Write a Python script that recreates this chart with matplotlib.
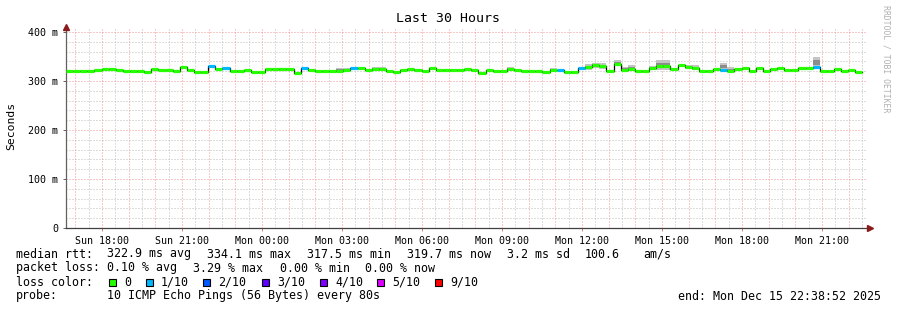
import matplotlib
matplotlib.use('Agg')
import matplotlib.pyplot as plt
from matplotlib.patches import Rectangle
import numpy as np

# ---------------- data ----------------
title = "Last 30 Hours"
tick_hours = [18, 21, 24, 27, 30, 33, 36, 39, 42, 45]
tick_labels = ["Sun 18:00", "Sun 21:00", "Mon 00:00", "Mon 03:00", "Mon 06:00",
               "Mon 09:00", "Mon 12:00", "Mon 15:00", "Mon 18:00", "Mon 21:00"]
y_ticks = [0, 100, 200, 300, 400]
y_tick_labels = ["0", "100 m", "200 m", "300 m", "400 m"]

median_ms = [321, 321, 321, 320, 322, 324, 324, 323, 321, 321, 320, 319, 324, 322, 322, 320, 328, 322, 318, 318,
             330, 325, 326, 320, 320, 322, 319, 319, 324, 324, 324, 324, 317, 326, 322, 321, 321, 321,
             321, 323, 327, 326, 322, 325, 325, 321, 319, 322, 324, 322, 321, 327, 323, 323, 323, 323, 325, 322,
             317, 323, 321, 321, 324, 322, 321, 321, 320, 319, 323, 323, 319, 319, 327, 328, 332,
             330, 320, 334, 323, 325, 321, 321, 326, 331, 331, 325, 332, 328, 326, 321, 320, 324, 323, 321, 324,
             327, 321, 326, 321, 324, 327, 322, 322, 327, 327, 328, 321, 321, 325, 321, 323, 319]
loss_idx = [20, 22, 33, 40, 69, 72, 92, 105]
loss_val = [1, 1, 1, 1, 1, 1, 1, 1]

smoke_idx = [38, 39, 43, 44, 62, 68, 73, 74, 75, 77, 78, 79, 82, 83, 84, 87, 88, 92, 93, 105]
smoke_lo = [318, 320, 322, 322, 321, 320, 322, 326, 324, 331, 320, 321, 322, 322, 322, 324, 322, 322, 319, 326]
smoke_hi = [327, 327, 328, 328, 328, 326, 335, 337, 336, 342, 328, 332, 331, 342, 342, 332, 332, 337, 328, 349]

loss_levels = ["0", "1/10", "2/10", "3/10", "4/10", "5/10", "9/10"]
loss_colors = ["#26ff00", "#00b8ff", "#0059ff", "#5e00ff", "#7e00ff", "#dd00ff", "#ff0000"]
loss_color_map = {0: "#26ff00", 1: "#00b8ff", 2: "#0059ff", 3: "#5e00ff", 4: "#7e00ff", 5: "#dd00ff", 9: "#ff0000"}

stats_rtt = ["322.9 ms avg", "334.1 ms max", "317.5 ms min", "319.7 ms now", "3.2 ms sd", "100.6", "am/s"]
stats_loss = ["0.10 % avg", "3.29 % max", "0.00 % min", "0.00 % now"]
probe_text = "10 ICMP Echo Pings (56 Bytes) every 80s"
end_text = "end: Mon Dec 15 22:38:52 2025"

# ---------------- layout ----------------
W, H = 897, 310
MONO = "DejaVu Sans Mono"
plt.rcParams['font.family'] = [MONO]

start_h = 16 + 38 / 60 + 52 / 3600
end_h = start_h + 30
step_h = 16 / 60

fig = plt.figure(figsize=(W / 100, H / 100), dpi=100)
fig.patch.set_facecolor("white")
ax = fig.add_axes([66 / W, (H - 228) / H, 800 / W, 201 / H])
ax.set_xlim(start_h, end_h)
ax.set_ylim(0, 410)
ax.set_facecolor("white")

dot = (0, (1, 2))
# grid
for h in np.arange(np.ceil(start_h * 2) / 2, end_h, 0.5):
    if abs(h - round(h)) > 1e-6:
        ax.axvline(h, color="#bdbdbd", lw=0.72, ls=dot, zorder=0)
for v in range(20, 401, 20):
    if v % 100:
        ax.axhline(v, color="#bdbdbd", lw=0.72, ls=dot, zorder=0)
for h in range(int(np.ceil(start_h)), int(end_h) + 1):
    ax.axvline(h, color="#f09595", lw=0.72, ls=dot, zorder=0.5)
for v in range(100, 401, 100):
    ax.axhline(v, color="#f09595", lw=0.72, ls=dot, zorder=0.5)

n = len(median_ms)
xs = start_h + np.arange(n + 1) * step_h
med = np.array(median_ms, dtype=float)

# smoke
for i, lo, hi in zip(smoke_idx, smoke_lo, smoke_hi):
    ax.fill_between([xs[i], xs[i + 1]], lo, hi, color="#c4c4c4", lw=0, zorder=1)
    q1 = lo + 0.3 * (hi - lo)
    q3 = lo + 0.7 * (hi - lo)
    ax.fill_between([xs[i], xs[i + 1]], q1, q3, color="#8c8c8c", lw=0, zorder=1.1)

# median step line (black) then loss-colored band
ax.step(xs, np.append(med, med[-1]), where="post", color="black", lw=0.9, zorder=2)
loss = dict(zip(loss_idx, loss_val))
for i in range(n):
    c = loss_color_map[loss.get(i, 0)]
    ax.hlines(med[i], xs[i], xs[i + 1], color=c, lw=2.3, zorder=3, capstyle="butt")

# axes & ticks
for s in ["top", "right"]:
    ax.spines[s].set_visible(False)
ax.spines["left"].set_color("#606060")
ax.spines["bottom"].set_color("#404040")
ax.spines["left"].set_linewidth(0.9)
ax.spines["bottom"].set_linewidth(0.9)
ax.set_xticks(tick_hours)
ax.set_xticklabels(tick_labels, fontsize=7.2, family=MONO)
ax.set_yticks(y_ticks)
ax.set_yticklabels(y_tick_labels, fontsize=7.2, family=MONO)
ax.tick_params(axis="x", length=2, width=0.7, color="#d08080", pad=3.5)
ax.tick_params(axis="y", length=2.5, width=0.7, color="#606060", pad=3)

# arrows
ax.plot([0], [1.0], transform=ax.transAxes, marker="^", color="#8b1a1a",
        ms=4, clip_on=False, zorder=5)
ax.plot([1.005], [0], transform=ax.transAxes, marker=">", color="#8b1a1a",
        ms=4, clip_on=False, zorder=5)

def ftext(x, y, s, **kw):
    kw.setdefault("fontsize", 8.4)
    kw.setdefault("family", MONO)
    kw.setdefault("va", "center")
    fig.text(x / W, 1 - y / H, s, **kw)

ftext(448, 19, title, ha="center", fontsize=9.5)
ftext(11, 126, "Seconds", ha="center", rotation=90, fontsize=8.2)
ftext(886, 59, "RRDTOOL / TOBI OETIKER", ha="center", rotation=270,
      fontsize=5.9, color="#b0b0b0")

# legend rows
ftext(16, 254, "median rtt:")
for x, s in zip([107, 207, 307, 407, 507, 585, 643], stats_rtt):
    ftext(x, 254, s)
ftext(16, 268, "packet loss:")
for x, s in zip([107, 193, 280, 365], stats_loss):
    ftext(x, 268, s)
ftext(16, 282, "loss color:")
for sx, tx, lab, col in zip([109, 146, 203, 262, 320, 377, 435],
                            [124, 161, 218, 277, 335, 392, 450],
                            loss_levels, loss_colors):
    fig.add_artist(Rectangle((sx / W, 1 - 286 / H), 7 / W, 7 / H,
                             transform=fig.transFigure, facecolor=col,
                             edgecolor="black", lw=0.8))
    ftext(tx, 282, lab)
ftext(16, 296, "probe:")
ftext(107, 296, probe_text)
ftext(678, 296, end_text)

fig.savefig("out.png", dpi=100, facecolor="white")
